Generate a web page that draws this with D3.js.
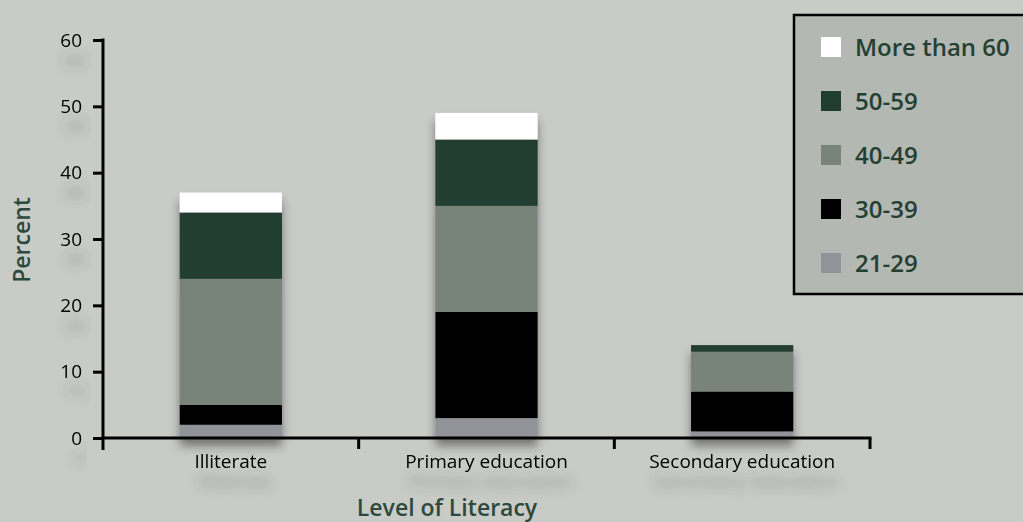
<!DOCTYPE html>
<html>
<head>
<meta charset="utf-8">
<script src="https://cdn.jsdelivr.net/npm/d3@7"></script>
<style>
  html, body { margin: 0; padding: 0; background: #c9cbc7; }
  svg { display: block; }
</style>
</head>
<body>
<svg id="chart" width="1023" height="522"></svg>
<script>
// Literacy levels along the x axis
const categories = ["Illiterate", "Primary education", "Secondary education"];

// Age groups, bottom of the stack first
const ageGroups = ["21-29", "30-39", "40-49", "50-59", "More than 60"];

// Percent per age group, one value per literacy level
const age21to29 = [2, 3, 1];
const age30to39 = [3, 16, 6];
const age40to49 = [19, 16, 6];
const age50to59 = [10, 10, 1];
const age60plus = [3, 4, 0];

const yTicks = [0, 10, 20, 30, 40, 50, 60];

const seriesValues = [age21to29, age30to39, age40to49, age50to59, age60plus];
const colors = ["#929398", "#000000", "#78837a", "#213d32", "#ffffff"];

const rows = categories.map((c, i) => {
  const r = { category: c };
  ageGroups.forEach((g, k) => { r[g] = seriesValues[k][i]; });
  return r;
});

const svg = d3.select("#chart");
const defs = svg.append("defs");

const barShadow = defs.append("filter").attr("id", "barShadow")
  .attr("x", "-30%").attr("y", "-10%").attr("width", "160%").attr("height", "130%");
barShadow.append("feDropShadow")
  .attr("dx", 0).attr("dy", 8).attr("stdDeviation", 5)
  .attr("flood-color", "#333").attr("flood-opacity", 0.55);

const textShadow = defs.append("filter").attr("id", "textShadow")
  .attr("x", "-40%").attr("y", "-60%").attr("width", "180%").attr("height", "320%");
textShadow.append("feDropShadow")
  .attr("dx", 4).attr("dy", 20).attr("stdDeviation", 6)
  .attr("flood-color", "#444").attr("flood-opacity", 0.45);

const font = "'Open Sans', sans-serif";
const x0 = 103, x1 = 870, yBottom = 438, yTop = 40;

const x = d3.scaleBand().domain(categories).range([x0, x1])
  .paddingInner(0.6).paddingOuter(0.3);
const y = d3.scaleLinear().domain([0, 60]).range([yBottom, yTop]);

const stack = d3.stack().keys(ageGroups);
const stacked = stack(rows);

const color = d3.scaleOrdinal().domain(ageGroups).range(colors);

// Bars
const barsG = svg.append("g");
categories.forEach((c, i) => {
  const g = barsG.append("g").attr("filter", "url(#barShadow)");
  stacked.forEach(layer => {
    const d = layer[i];
    if (d[1] - d[0] <= 0) return;
    g.append("rect")
      .attr("x", x(c))
      .attr("width", x.bandwidth())
      .attr("y", y(d[1]))
      .attr("height", y(d[0]) - y(d[1]))
      .attr("fill", color(layer.key));
  });
});

// Y axis
const yAxis = d3.axisLeft(y).tickValues(yTicks).tickSize(10).tickPadding(11);
const yg = svg.append("g").attr("transform", `translate(${x0},0)`).call(yAxis);
yg.select(".domain").remove();
yg.selectAll(".tick line").attr("stroke", "#000").attr("stroke-width", 3);
yg.selectAll(".tick text")
  .attr("font-family", font)
  .attr("font-size", 19).attr("fill", "#000")
  .attr("filter", "url(#textShadow)");
svg.append("line")
  .attr("x1", x0).attr("x2", x0).attr("y1", yTop - 1.5).attr("y2", yBottom + 12)
  .attr("stroke", "#000").attr("stroke-width", 3);

// X axis: tick marks at band boundaries, labels at band centres
const boundaries = categories.map(c => x(c) + x.bandwidth() / 2 + x.step() / 2);
svg.append("line")
  .attr("x1", x0).attr("x2", x1 + 1.5).attr("y1", yBottom).attr("y2", yBottom)
  .attr("stroke", "#000").attr("stroke-width", 3);
svg.append("g").selectAll("line").data(boundaries).join("line")
  .attr("x1", d => Math.min(d, x1)).attr("x2", d => Math.min(d, x1))
  .attr("y1", yBottom).attr("y2", yBottom + 11)
  .attr("stroke", "#000").attr("stroke-width", 3);
svg.append("g").selectAll("text").data(categories).join("text")
  .attr("x", d => x(d) + x.bandwidth() / 2)
  .attr("y", 468)
  .attr("text-anchor", "middle")
  .attr("font-family", font)
  .attr("font-size", 19).attr("fill", "#000")
  .attr("filter", "url(#textShadow)")
  .text(d => d);

// Axis titles
svg.append("text")
  .attr("transform", "translate(30,240) rotate(-90)")
  .attr("text-anchor", "middle")
  .attr("font-family", font)
  .attr("font-weight", 600).attr("font-size", 23).attr("fill", "#2b4a3d")
  .text("Percent");
svg.append("text")
  .attr("x", 447).attr("y", 516)
  .attr("text-anchor", "middle")
  .attr("font-family", font)
  .attr("font-weight", 600).attr("font-size", 23).attr("fill", "#2b4a3d")
  .text("Level of Literacy");

// Legend, top entry first
const legend = svg.append("g");
legend.append("rect")
  .attr("x", 794).attr("y", 15).attr("width", 240).attr("height", 279)
  .attr("fill", "#b3b8b3").attr("stroke", "#000").attr("stroke-width", 2.5);
const legendItems = ageGroups.slice().reverse();
const ly = d3.scalePoint().domain(legendItems).range([47, 263]);
const li = legend.selectAll("g.item").data(legendItems).join("g").attr("class", "item")
  .attr("transform", d => `translate(821,${ly(d)})`);
li.append("rect").attr("x", 0).attr("y", -10).attr("width", 20).attr("height", 20)
  .attr("fill", d => color(d));
li.append("text").attr("x", 34).attr("y", 0).attr("dy", "0.36em")
  .attr("font-family", font)
  .attr("font-weight", 600).attr("font-size", 24).attr("fill", "#234033")
  .text(d => d);
</script>
</body>
</html>
